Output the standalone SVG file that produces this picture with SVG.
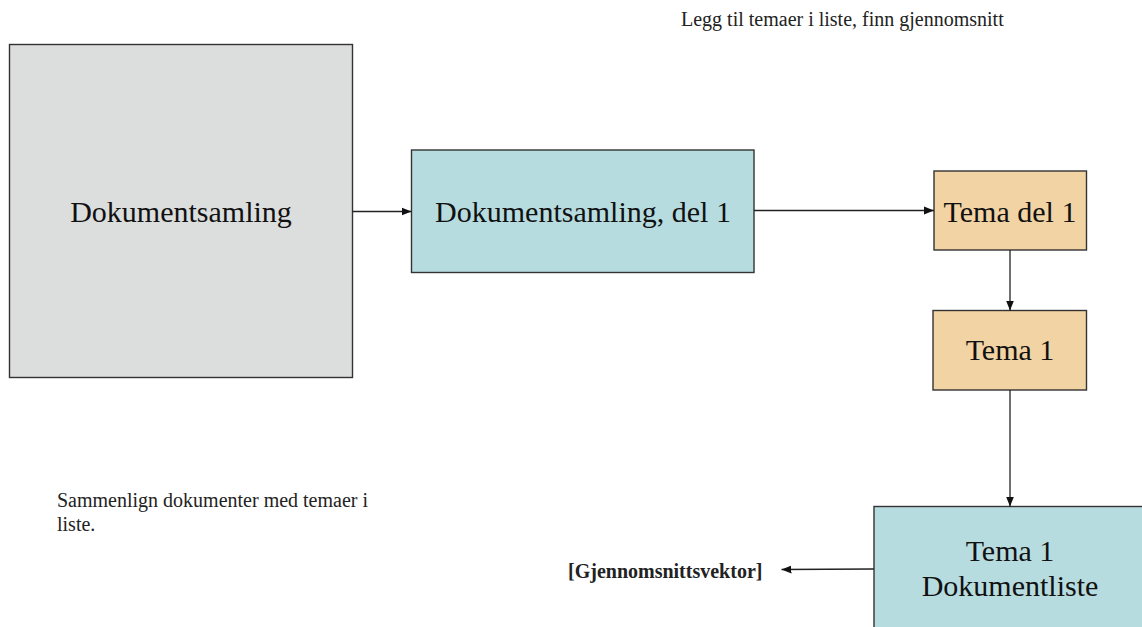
<svg xmlns="http://www.w3.org/2000/svg" width="1142" height="627" viewBox="0 0 1142 627">
  <style>
    .box { stroke: #333333; stroke-width: 1.4; }
    .gray { fill: #dcdddd; }
    .teal { fill: #b7dce0; }
    .peach { fill: #f2d3a4; }
    .label { font-family: "Liberation Serif", "Times New Roman", serif; font-size: 30px; fill: #111111; text-anchor: middle; }
    .note { font-family: "Liberation Serif", "Times New Roman", serif; font-size: 20px; fill: #222222; }
    .bold { font-family: "Liberation Serif", "Times New Roman", serif; font-size: 20px; font-weight: bold; fill: #222222; }
    .link { stroke: #222222; stroke-width: 1.3; fill: none; marker-end: url(#arrow); }
  </style>
  <defs>
    <marker id="arrow" markerUnits="userSpaceOnUse" markerWidth="11" markerHeight="9" refX="10" refY="4.5" orient="auto">
      <path d="M0,0.5 L10,4.5 L0,8.5 z" fill="#111111"/>
    </marker>
  </defs>

  <rect width="1142" height="627" fill="#ffffff"/>

  <!-- free-standing notes -->
  <text class="note" x="681" y="26">Legg til temaer i liste, finn gjennomsnitt</text>
  <text class="note" x="57" y="507">Sammenlign dokumenter med temaer i</text>
  <text class="note" x="57" y="531">liste.</text>

  <g id="dokumentsamling">
    <rect class="box gray" x="9.5" y="44.5" width="343" height="333"/>
    <text class="label" x="181" y="222">Dokumentsamling</text>
  </g>

  <g id="dokumentsamling-del1">
    <rect class="box teal" x="411.5" y="150" width="342.5" height="122.5"/>
    <text class="label" x="583" y="222">Dokumentsamling, del 1</text>
  </g>

  <g id="tema-del1">
    <rect class="box peach" x="934" y="171" width="152.5" height="79"/>
    <text class="label" x="1010" y="222">Tema del 1</text>
  </g>

  <g id="tema1">
    <rect class="box peach" x="933" y="310.5" width="153.5" height="79.5"/>
    <text class="label" x="1010" y="360">Tema 1</text>
  </g>

  <g id="tema1-dokumentliste">
    <rect class="box teal" x="874" y="506.5" width="272" height="140"/>
    <text class="label" x="1010" y="561">Tema 1</text>
    <text class="label" x="1010" y="596">Dokumentliste</text>
  </g>

  <g id="gjennomsnittsvektor">
    <text class="bold" x="568" y="578">[Gjennomsnittsvektor]</text>
  </g>

  <g id="connectors">
    <line class="link" x1="352.5" y1="211.5" x2="411.5" y2="211.5"/>
    <line class="link" x1="754" y1="210.5" x2="934" y2="210.5"/>
    <line class="link" x1="1010" y1="250" x2="1010" y2="310.5"/>
    <line class="link" x1="1010" y1="390" x2="1010" y2="506.5"/>
    <line class="link" x1="874" y1="569" x2="781.5" y2="569.5"/>
  </g>
</svg>
